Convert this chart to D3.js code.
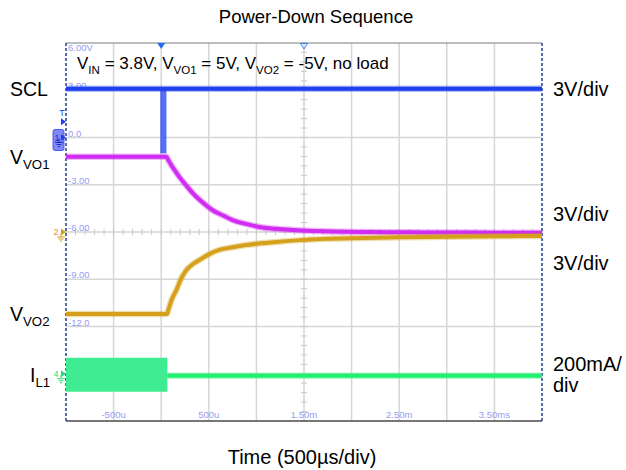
<!DOCTYPE html>
<html>
<head>
<meta charset="utf-8">
<script src="https://cdn.jsdelivr.net/npm/d3@7"></script>
<style>
  body { margin: 0; background: #fff; }
  text { font-family: "Liberation Sans", Arial, sans-serif; }
</style>
</head>
<body>
<script>
        var w = 626;
        var h = 470;

        // time in ms
        var timeTicks = [-1, -0.5, 0, 0.5, 1, 1.5, 2, 2.5, 3, 3.5, 4];
        var timeLabels = ["", "-500u", "", "500u", "", "1.50m", "", "2.50m", "", "3.50ms", ""];

        // grid labels in channel 1 volts
        var voltTicks = [6, 3, 0, -3, -6, -9, -12, -15, -18];
        var voltLabels = ["6.00V", "3.00", "0.0", "-3.00", "-6.00", "-9.00", "-12.0", "-15.0", ""];

        // SCL (V)
        var sclTime = [-1, 4];
        var sclValue = [3.1, 3.1];
        var sclGlitchTime = [-0.01, 0.055];
        var sclGlitchLow = [-1.0, -1.0];
        var sclGlitchHigh = [3.1, 3.1];

        // VVO1 (V)
        var vo1Time = [-1, 0.055, 0.07, 0.1, 0.15, 0.2, 0.25, 0.326, 0.43, 0.536, 0.65, 0.75, 0.9, 1.03, 1.2, 1.38, 1.6, 1.8, 2.2, 2.6, 3.0, 3.5, 4.0];
        var vo1Value = [4.77, 4.77, 4.62, 4.3, 3.85, 3.42, 3.05, 2.5, 1.9, 1.4, 1.05, 0.76, 0.5, 0.32, 0.2, 0.13, 0.07, 0.03, 0.0, -0.02, -0.03, -0.04, -0.05];

        // VVO2 (V)
        var vo2Time = [-1, 0.062, 0.075, 0.11, 0.16, 0.21, 0.26, 0.33, 0.4, 0.5, 0.61, 0.75, 0.89, 1.05, 1.21, 1.5, 2.0, 2.5, 3.0, 3.5, 4.0];
        var vo2Value = [-5.2, -5.2, -4.95, -4.3, -3.68, -2.95, -2.45, -2.05, -1.78, -1.42, -1.14, -0.97, -0.83, -0.72, -0.63, -0.5, -0.4, -0.34, -0.3, -0.27, -0.25];

        // IL1 (mA)
        var ilBandTime = [-1, 0.065];
        var ilBandHigh = [68, 68];
        var ilBandLow = [-76, -76];
        var ilTime = [0.065, 4];
        var ilValue = [-8, -8];

        var svg = d3.select("body")
                    .append("svg")
                    .attr("width", w)
                    .attr("height", h);

        svg.append("rect").attr("width", w).attr("height", h).attr("fill", "#fff");

        var pLeft = 66, pRight = 542, pTop = 43, pBottom = 421;

        var x = d3.scaleLinear().domain([-1, 4]).range([pLeft, pRight]);
        // channel scales: 3V/div, 200mA/div, 8 divisions
        var y1 = d3.scaleLinear().domain([-18, 6]).range([pBottom, pTop]);
        var y2 = d3.scaleLinear().domain([-12, 12]).range([pBottom, pTop]);
        var y3 = d3.scaleLinear().domain([-12, 12]).range([pBottom, pTop]);
        var y4 = d3.scaleLinear().domain([-200, 1400]).range([pBottom, pTop]);

        // grid
        svg.selectAll(".vgrid")
            .data(timeTicks.slice(1, -1))
            .enter().append("line")
            .attr("x1", function(d) { return x(d); })
            .attr("x2", function(d) { return x(d); })
            .attr("y1", pTop).attr("y2", pBottom)
            .attr("stroke", "#d6d6d6").attr("stroke-width", 1.5);

        svg.selectAll(".hgrid")
            .data(voltTicks.slice(1, -1))
            .enter().append("line")
            .attr("x1", pLeft).attr("x2", pRight)
            .attr("y1", function(d) { return y1(d); })
            .attr("y2", function(d) { return y1(d); })
            .attr("stroke", "#d6d6d6").attr("stroke-width", 1.5);

        // minor ticks on the center lines
        var xMinor = d3.range(-1, 4.001, 0.1);
        svg.selectAll(".xminor")
            .data(xMinor)
            .enter().append("line")
            .attr("x1", function(d) { return x(d); })
            .attr("x2", function(d) { return x(d); })
            .attr("y1", y1(-6) - 3).attr("y2", y1(-6) + 3)
            .attr("stroke", "#c8c8c8").attr("stroke-width", 1);

        var yMinor = d3.range(-18, 6.001, 0.6);
        svg.selectAll(".yminor")
            .data(yMinor)
            .enter().append("line")
            .attr("x1", x(1.5) - 3).attr("x2", x(1.5) + 3)
            .attr("y1", function(d) { return y1(d); })
            .attr("y2", function(d) { return y1(d); })
            .attr("stroke", "#c8c8c8").attr("stroke-width", 1);

        // frame
        svg.append("line").attr("x1", pLeft).attr("x2", pRight).attr("y1", pTop).attr("y2", pTop)
            .attr("stroke", "#7a7a7a").attr("stroke-width", 1);
        svg.append("line").attr("x1", pLeft).attr("x2", pRight).attr("y1", pBottom).attr("y2", pBottom)
            .attr("stroke", "#4a4a4a").attr("stroke-width", 1.5);
        [pLeft, pRight].forEach(function(px) {
            svg.append("line").attr("x1", px).attr("x2", px).attr("y1", pTop).attr("y2", pBottom)
                .attr("stroke", "#1b3f8f").attr("stroke-width", 1.5)
                .attr("stroke-dasharray", "3,2");
        });

        // grid labels
        svg.selectAll(".vlab")
            .data(voltTicks.slice(0, -1))
            .enter().append("text")
            .attr("x", pLeft + 2)
            .attr("y", function(d, i) { return i === 0 ? y1(d) + 8 : y1(d) - 1; })
            .text(function(d, i) { return voltLabels[i]; })
            .attr("font-family", "DejaVu Sans Mono, monospace")
            .attr("font-size", 9.5)
            .attr("fill", "#959cf0");

        svg.selectAll(".tlab")
            .data(timeTicks)
            .enter().append("text")
            .attr("x", function(d) { return x(d); })
            .attr("y", pBottom - 3)
            .attr("text-anchor", "middle")
            .text(function(d, i) { return timeLabels[i]; })
            .attr("font-family", "DejaVu Sans Mono, monospace")
            .attr("font-size", 9.5)
            .attr("fill", "#959cf0");

        // top markers: trigger and center
        svg.append("path")
            .attr("d", "M" + (x(0) - 4) + "," + pTop + "L" + (x(0) + 4) + "," + pTop + "L" + x(0) + "," + (pTop + 6) + "Z")
            .attr("fill", "#1f6fe8");
        svg.append("path")
            .attr("d", "M" + (x(1.5) - 3.5) + "," + (pTop + 0.5) + "L" + (x(1.5) + 3.5) + "," + (pTop + 0.5) + "L" + x(1.5) + "," + (pTop + 6) + "Z")
            .attr("fill", "none").attr("stroke", "#3b82f6").attr("stroke-width", 1);

        // traces
        function lineOf(ts, vs, ys) {
            return d3.line()
                .x(function(d, i) { return x(ts[i]); })
                .y(function(d, i) { return ys(vs[i]); })
                .curve(d3.curveMonotoneX)(ts);
        }
        function drawTrace(ts, vs, ys, color, width) {
            svg.append("path").attr("d", lineOf(ts, vs, ys))
                .attr("fill", "none").attr("stroke", color)
                .attr("stroke-width", width + 2.5).attr("stroke-opacity", 0.35);
            svg.append("path").attr("d", lineOf(ts, vs, ys))
                .attr("fill", "none").attr("stroke", color)
                .attr("stroke-width", width);
        }
        function drawBand(ts, lo, hi, ys, color, opacity) {
            var area = d3.area()
                .x(function(d, i) { return x(ts[i]); })
                .y0(function(d, i) { return ys(lo[i]); })
                .y1(function(d, i) { return ys(hi[i]); });
            svg.append("path").attr("d", area(ts))
                .attr("fill", color).attr("fill-opacity", opacity);
        }

        drawTrace(vo1Time, vo1Value, y2, "#d12cf2", 4);
        drawTrace(vo2Time, vo2Value, y3, "#d5a11c", 4);

        drawBand(ilBandTime, ilBandLow, ilBandHigh, y4, "#3fec92", 1);
        drawTrace(ilTime, ilValue, y4, "#1ff06e", 4);

        drawBand(sclGlitchTime, sclGlitchLow, sclGlitchHigh, y1, "#3b55f2", 0.85);
        drawTrace(sclTime, sclValue, y1, "#2040f0", 4);

        // channel markers on the left
        function arrow(py, color) {
            svg.append("path")
                .attr("d", "M" + (pLeft - 5) + "," + (py - 3.5) + "L" + pLeft + "," + py + "L" + (pLeft - 5) + "," + (py + 3.5) + "Z")
                .attr("fill", color);
        }
        function ground(px, py, color) {
            svg.append("path")
                .attr("d", "M" + px + "," + py + "v4M" + (px - 4) + "," + (py + 4) + "h8M" + (px - 2.5) + "," + (py + 6) + "h5M" + (px - 1) + "," + (py + 8) + "h2")
                .attr("stroke", color).attr("stroke-width", 1).attr("fill", "none");
        }

        // trigger marker
        svg.append("text").attr("x", pLeft - 4).attr("y", y1(1.0) - 6)
            .attr("text-anchor", "middle").attr("font-size", 9).attr("fill", "#2040f0").text("T");
        arrow(y1(1.0), "#2040f0");

        // ch1
        svg.append("rect").attr("x", pLeft - 13).attr("y", y1(0) - 8).attr("width", 11).attr("height", 21)
            .attr("rx", 2).attr("fill", "#7f88f4").attr("stroke", "#3040e8").attr("stroke-width", 0.8);
        svg.append("text").attr("x", pLeft - 9).attr("y", y1(0) + 3)
            .attr("text-anchor", "middle").attr("font-size", 9).attr("fill", "#1a2cc8").text("1");
        ground(pLeft - 7, y1(0) + 1, "#1a2cc8");
        arrow(y1(0), "#2040f0");

        // ch2 / ch3
        svg.append("text").attr("x", pLeft - 10).attr("y", y2(0) + 3)
            .attr("text-anchor", "middle").attr("font-size", 9).attr("fill", "#e5883a").text("2");
        ground(pLeft - 5, y2(0) + 1, "#d5a11c");
        arrow(y3(0), "#d5a11c");

        // ch4
        svg.append("text").attr("x", pLeft - 10).attr("y", y4(0) + 3)
            .attr("text-anchor", "middle").attr("font-size", 9).attr("fill", "#2fd87a").text("4");
        ground(pLeft - 5, y4(0) + 1, "#2fd87a");
        arrow(y4(0), "#2fd87a");

        // text labels with subscripts
        function richText(px, py, parts, size, anchor) {
            var t = svg.append("text").attr("x", px).attr("y", py)
                .attr("font-size", size).attr("fill", "#000")
                .attr("text-anchor", anchor || "start");
            parts.forEach(function(p) {
                var s = t.append("tspan").text(p[0]);
                if (p[1]) {
                    s.attr("font-size", size * 0.68).attr("dy", size * 0.28);
                } else if (p[2]) {
                    s.attr("dy", -size * 0.28);
                }
            });
            return t;
        }

        svg.append("text").attr("x", 316).attr("y", 23).attr("text-anchor", "middle")
            .attr("font-size", 18.5).text("Power-Down Sequence");
        svg.append("text").attr("x", 302).attr("y", 464).attr("text-anchor", "middle")
            .attr("font-size", 20).text("Time (500\u00b5s/div)");

        richText(77, 69, [["V"], ["IN", true], [" = 3.8V, V", false, true], ["VO1", true], [" = 5V, V", false, true], ["VO2", true], [" = -5V, no load", false, true]], 17);

        svg.append("text").attr("x", 10).attr("y", y1(3.1) + 7).attr("font-size", 19.5).text("SCL");
        richText(10, y2(4.77) + 7, [["V"], ["VO1", true]], 19.5);
        richText(10, y3(-5.2) + 7, [["V"], ["VO2", true]], 19.5);
        richText(30, y4(0) + 8, [["I"], ["L1", true]], 19.5);

        var rightLabels = [["3V/div", y1(3.1)], ["3V/div", 214], ["3V/div", 263], ["200mA/", 364], ["div", 385]];
        svg.selectAll(".rlab")
            .data(rightLabels)
            .enter().append("text")
            .attr("x", 553)
            .attr("y", function(d) { return d[1] + 7; })
            .attr("font-size", 20)
            .text(function(d) { return d[0]; });
</script>
</body>
</html>
